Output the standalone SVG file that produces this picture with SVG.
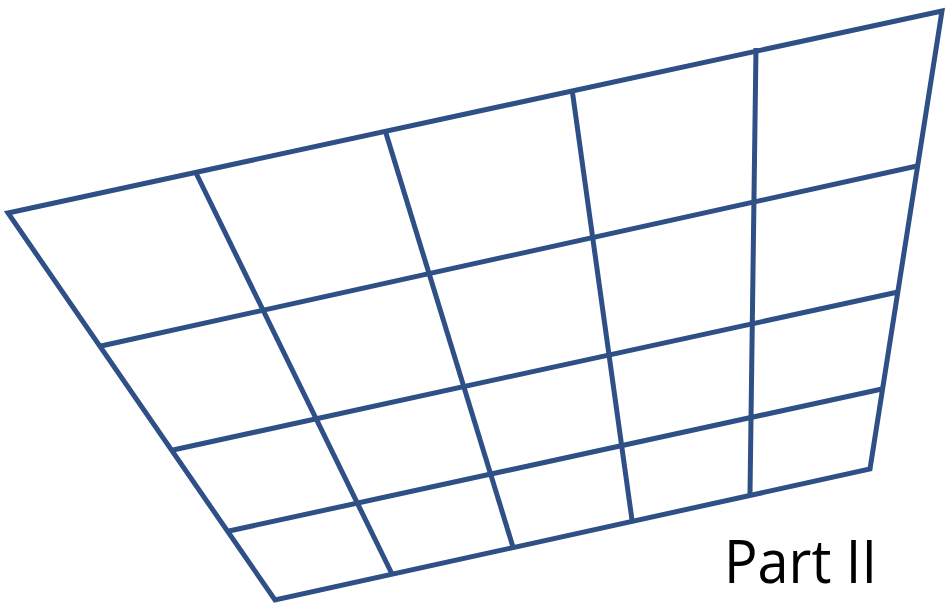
<svg xmlns="http://www.w3.org/2000/svg" width="947" height="605" viewBox="0 0 947 605">
<style>
.g{fill:none;stroke:#2E5086;stroke-width:5;stroke-linejoin:miter;stroke-linecap:butt}
.t{font-family:"Open Sans","Liberation Sans",sans-serif;font-size:60px;fill:#000}
</style>
<rect width="947" height="605" fill="#fff"/>
<g id="grid">
<polygon class="g" points="8,213 942,11 870,469 275,600"/>
<g id="verticals">
<line class="g" x1="196" y1="173" x2="392" y2="574"/>
<line class="g" x1="385" y1="130" x2="513" y2="547"/>
<line class="g" x1="572" y1="89" x2="632" y2="520"/>
<line class="g" x1="756" y1="48" x2="750" y2="494"/>
</g>
<g id="horizontals">
<line class="g" x1="101" y1="346" x2="917" y2="166"/>
<line class="g" x1="173" y1="450" x2="898" y2="292"/>
<line class="g" x1="229" y1="531" x2="882" y2="389"/>
</g>
</g>
<text class="t" x="724" y="583" textLength="153" lengthAdjust="spacingAndGlyphs">Part II</text>
</svg>
